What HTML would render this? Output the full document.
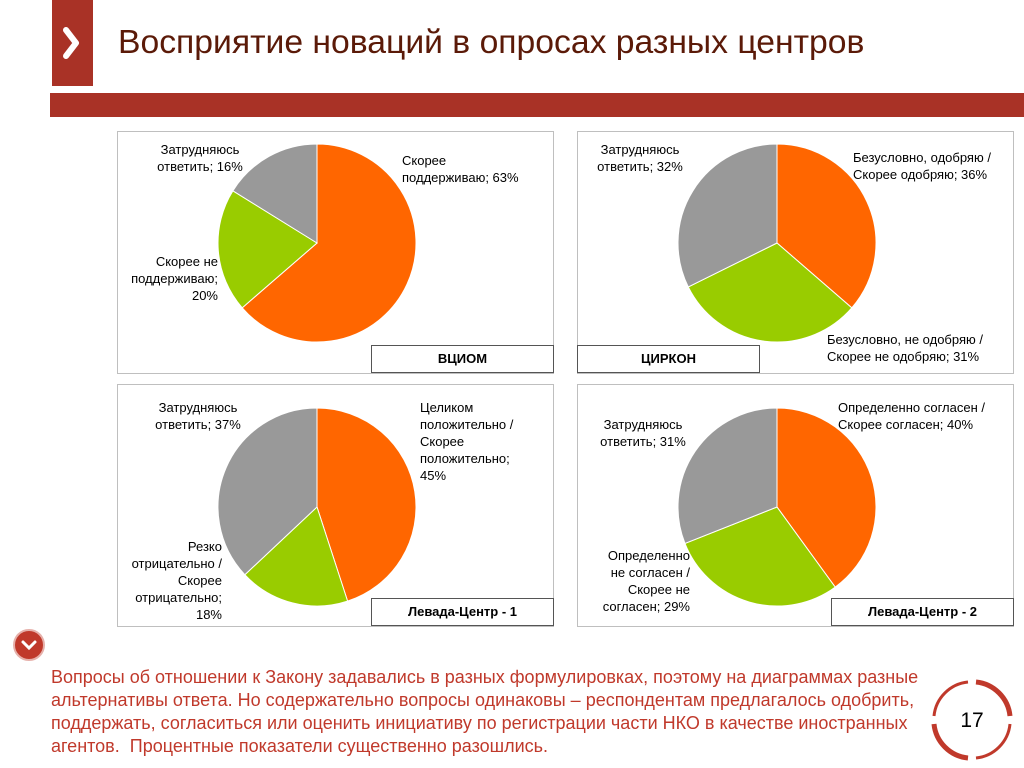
<!DOCTYPE html>
<html><head><meta charset="utf-8"><style>
body{margin:0;width:1024px;height:768px;background:#fff;position:relative;overflow:hidden;font-family:"Liberation Sans",sans-serif}
.abs{position:absolute}
.panel{position:absolute;border:1px solid #bfbfbf;background:#fff}
.lbl{position:absolute;font-size:13px;color:#000;line-height:17px}
.tag{position:absolute;border:1px solid #555;background:#fff;font-size:13px;font-weight:bold;text-align:center;line-height:26px}
</style></head><body>
<div class="abs" style="left:52px;top:0;width:41px;height:86px;background:#a93226"></div>
<svg class="abs" style="left:52px;top:0" width="41" height="86"><polyline points="14,30 24,43 14,56" fill="none" stroke="#fff" stroke-width="6" stroke-linecap="round" stroke-linejoin="round"/></svg>
<div class="abs" style="left:118px;top:23px;font-size:33.7px;color:#5b1a08;white-space:nowrap">Восприятие новаций в опросах разных центров</div>
<div class="abs" style="left:50px;top:93px;width:974px;height:24px;background:#a93226"></div>

<div class="panel" style="left:117px;top:131px;width:435px;height:241px"></div>
<div class="panel" style="left:577px;top:131px;width:435px;height:241px"></div>
<div class="panel" style="left:117px;top:384px;width:435px;height:241px"></div>
<div class="panel" style="left:577px;top:384px;width:435px;height:241px"></div>

<svg id="pies" class="abs" style="left:0;top:0" width="1024" height="768"></svg>

<div class="tag" style="left:371px;top:345px;width:181px;height:26px">ВЦИОМ</div>
<div class="tag" style="left:577px;top:345px;width:181px;height:26px">ЦИРКОН</div>
<div class="tag" style="left:371px;top:598px;width:181px;height:26px">Левада-Центр - 1</div>
<div class="tag" style="left:831px;top:598px;width:181px;height:26px">Левада-Центр - 2</div>

<div class="lbl" style="left:150px;top:141px;width:100px;text-align:center">Затрудняюсь ответить; 16%</div>
<div class="lbl" style="left:402px;top:152px">Скорее<br>поддерживаю; 63%</div>
<div class="lbl" style="left:118px;top:253px;width:100px;text-align:right">Скорее не<br>поддерживаю;<br>20%</div>

<div class="lbl" style="left:590px;top:141px;width:100px;text-align:center">Затрудняюсь ответить; 32%</div>
<div class="lbl" style="left:853px;top:149px">Безусловно, одобряю /<br>Скорее одобряю; 36%</div>
<div class="lbl" style="left:827px;top:331px">Безусловно, не одобряю /<br>Скорее не одобряю; 31%</div>

<div class="lbl" style="left:148px;top:399px;width:100px;text-align:center">Затрудняюсь ответить; 37%</div>
<div class="lbl" style="left:420px;top:399px">Целиком<br>положительно /<br>Скорее<br>положительно;<br>45%</div>
<div class="lbl" style="left:110px;top:538px;width:112px;text-align:right">Резко<br>отрицательно /<br>Скорее<br>отрицательно;<br>18%</div>

<div class="lbl" style="left:593px;top:416px;width:100px;text-align:center">Затрудняюсь ответить; 31%</div>
<div class="lbl" style="left:838px;top:399px">Определенно согласен /<br>Скорее согласен; 40%</div>
<div class="lbl" style="left:590px;top:547px;width:100px;text-align:right">Определенно<br>не согласен /<br>Скорее не<br>согласен; 29%</div>

<svg class="abs" style="left:12px;top:628px" width="34" height="34"><circle cx="17" cy="17" r="15" fill="#c0392b" stroke="#e6b0aa" stroke-width="2"/><polyline points="11,14 17,20 23,14" fill="none" stroke="#fff" stroke-width="3" stroke-linecap="round"/></svg>

<div class="abs" style="left:51px;top:666px;font-size:18px;line-height:23px;color:#c0392b;white-space:nowrap">Вопросы об отношении к Закону задавались в разных формулировках, поэтому на диаграммах разные<br>альтернативы ответа. Но содержательно вопросы одинаковы – респондентам предлагалось одобрить,<br>поддержать, согласиться или оценить инициативу по регистрации части НКО в качестве иностранных<br>агентов.&nbsp; Процентные показатели существенно разошлись.</div>

<svg class="abs" style="left:930px;top:678px" width="84" height="84">
<path d="M46 4 A38 38 0 0 1 80 38" fill="none" stroke="#c0392b" stroke-width="5"/>
<path d="M80 46 A38 38 0 0 1 46 80" fill="none" stroke="#c0392b" stroke-width="3"/>
<path d="M38 80 A38 38 0 0 1 4 46" fill="none" stroke="#c0392b" stroke-width="5"/>
<path d="M4 38 A38 38 0 0 1 38 4" fill="none" stroke="#c0392b" stroke-width="3"/>
<text x="42" y="49" text-anchor="middle" font-size="21" font-family="Liberation Sans" fill="#000">17</text>
</svg>

<script>
const pieNames=["vciom","tsirkon","levada-1","levada-2"];
const orangeVals=[63,36,45,40];
const greenVals=[20,31,18,29];
const greyVals=[16,32,37,31];
const centers=[[317,243],[777,243],[317,507],[777,507]];
const R=99;
const colors=["#ff6600","#99cc00","#999999"];
const svg=document.getElementById('pies');
function pt(cx,cy,a){return [cx+R*Math.sin(a),cy-R*Math.cos(a)];}
pieNames.forEach((n,i)=>{
  const vals=[orangeVals[i],greenVals[i],greyVals[i]];
  const tot=vals.reduce((a,b)=>a+b,0);
  let a0=0;const [cx,cy]=centers[i];
  vals.forEach((v,j)=>{
    const a1=a0+v/tot*2*Math.PI;
    const p0=pt(cx,cy,a0),p1=pt(cx,cy,a1);
    const p=document.createElementNS('http://www.w3.org/2000/svg','path');
    p.setAttribute('d',`M${cx},${cy}L${p0[0]},${p0[1]}A${R},${R} 0 ${a1-a0>Math.PI?1:0} 1 ${p1[0]},${p1[1]}Z`);
    p.setAttribute('fill',colors[j]);p.setAttribute('stroke','#fff');p.setAttribute('stroke-width','1');
    
    
    svg.appendChild(p);a0=a1;
  });
});
</script>
</body></html>
